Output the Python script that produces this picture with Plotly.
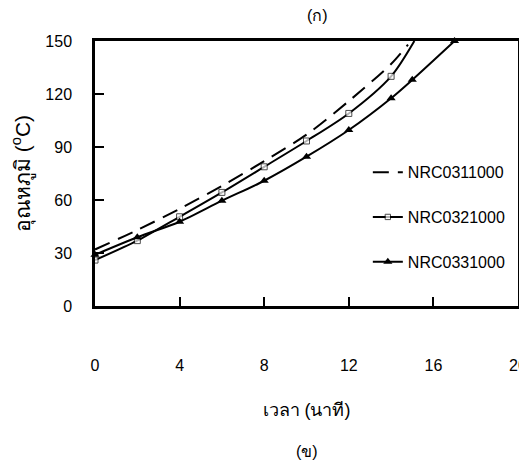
import plotly.graph_objects as go

# Data
time_311 = [0, 2, 4, 6, 8, 10, 12, 14, 14.8]
temp_311 = [32, 43, 55, 68, 82, 97, 116, 137, 148]

time_321 = [0, 2, 4, 6, 8, 10, 12, 14, 15.1]
temp_321 = [26, 37, 50.5, 64.3, 78.8, 93.4, 109, 130, 150]

time_331 = [0, 2, 4, 6, 8, 10, 12, 14, 15, 17]
temp_331 = [29, 38.9, 47.7, 59.6, 70.9, 84.5, 99.6, 117.6, 128, 150]

series_names = ["NRC0311000", "NRC0321000", "NRC0331000"]
x_ticks = [0, 4, 8, 12, 16, 20]
y_ticks = [0, 30, 60, 90, 120, 150]

FONT = "Liberation Sans, Arial, sans-serif"

fig = go.Figure()

fig.add_trace(go.Scatter(
    x=time_311, y=temp_311, name=series_names[0], mode="lines",
    line=dict(color="black", width=2, dash="16px,9px", shape="spline", smoothing=0.8),
    legendgroup="a",
))
sq_sizes = [6] * (len(time_321) - 1) + [0]
fig.add_trace(go.Scatter(
    x=time_321, y=temp_321, name=series_names[1], mode="lines+markers",
    line=dict(color="black", width=2, shape="spline", smoothing=0.8),
    marker=dict(symbol="square", size=sq_sizes, color="white",
                line=dict(color="black", width=1)),
    legendgroup="b",
))
fig.add_trace(go.Scatter(
    x=time_331, y=temp_331, name=series_names[2], mode="lines+markers",
    line=dict(color="black", width=2, shape="spline", smoothing=0.8),
    marker=dict(symbol="triangle-up", size=8, color="black"),
    legendgroup="c", cliponaxis=False,
))

# page body adds an 8px margin; figure sized to fill the rest of the window
fig.update_layout(
    width=519, height=455,
    margin=dict(l=87, r=9, t=33, b=157, autoexpand=False),
    paper_bgcolor="white", plot_bgcolor="white",
    font=dict(family=FONT, size=16, color="black"),
    showlegend=True,
    legend=dict(x=0.645, y=0.335, xanchor="left", yanchor="middle",
                font=dict(size=16), tracegroupgap=21,
                bgcolor="rgba(0,0,0,0)"),
    xaxis=dict(
        range=[0, 20], tickvals=x_ticks, ticktext=[str(v) for v in x_ticks],
        ticks="inside", ticklen=9, tickwidth=1.5, tickcolor="black",
        showgrid=False, zeroline=False, showline=True, linecolor="black",
        linewidth=2.5, mirror=True, ticklabelstandoff=43, automargin=False,
        title=dict(text="เวลา (นาที)", font=dict(size=18), standoff=31),
    ),
    yaxis=dict(
        range=[0, 150], tickvals=y_ticks,
        ticks="inside", ticklen=9, tickwidth=2, tickcolor="black",
        showgrid=False, zeroline=False, showline=True, linecolor="black",
        linewidth=2.5, mirror=True, ticklabelstandoff=17, automargin=False,
        title=dict(text="อุณหภูมิ (<sup>o</sup>C)", font=dict(size=21), standoff=16),
    ),
    annotations=[
        dict(text="(ก)", xref="paper", yref="paper", x=0.527, y=1, yshift=26,
             showarrow=False, font=dict(size=16), xanchor="center", yanchor="middle"),
        dict(text="(ข)", xref="paper", yref="paper", x=0.5, y=0, yshift=-145,
             showarrow=False, font=dict(size=16), xanchor="center", yanchor="middle"),
    ],
)

fig.write_html("out.html")
